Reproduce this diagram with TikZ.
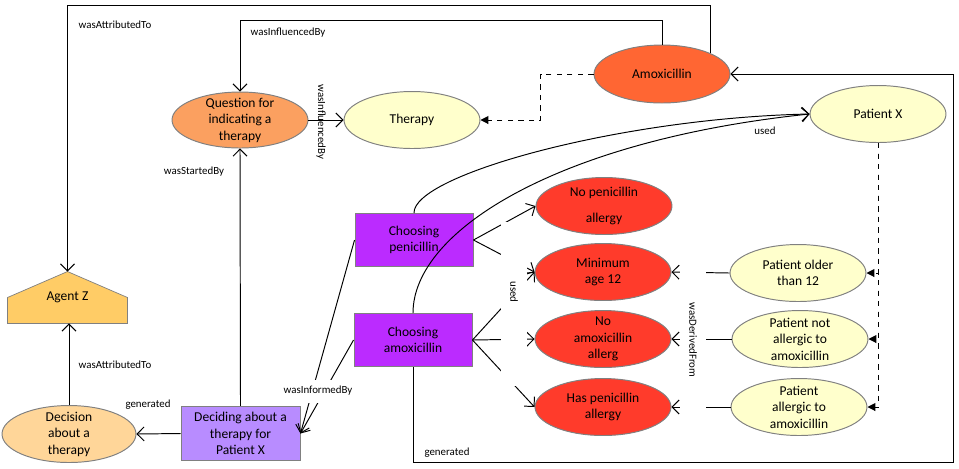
\documentclass[tikz,border=0pt]{standalone}
\usepackage{fontspec}
\setmainfont{Carlito}
\usetikzlibrary{shapes.geometric,arrows.meta,backgrounds}
\definecolor{qorange}{HTML}{FBA060}
\definecolor{thyellow}{HTML}{FFFFCC}
\definecolor{amoxred}{HTML}{FF6633}
\definecolor{allred}{HTML}{FF3B2B}
\definecolor{chpurple}{HTML}{BB2BFF}
\definecolor{depurple}{HTML}{B88CFF}
\definecolor{agentgold}{HTML}{FFCC66}
\definecolor{decorange}{HTML}{FFD699}
\newcommand{\mainsz}{\fontsize{7.7}{9.4}\selectfont}
\newcommand{\lblsz}{\fontsize{6.2}{7.5}\selectfont}
\begin{document}
\begin{tikzpicture}[x=0.02cm,y=-0.02cm,line width=0.55pt,
  ent/.style={ellipse,draw=gray,inner xsep=0pt,inner ysep=-3pt,minimum width=2.72cm,
    minimum height=1.14cm,align=center,font=\mainsz},
  act/.style={rectangle,draw=gray,minimum width=2.36cm,minimum height=1.06cm,
    align=center,font=\mainsz},
  lbl/.style={font=\lblsz,inner sep=1pt},
  arr/.style={-{Straight Barb[length=4pt,width=8pt]}},
  dsh/.style={dashed,-{Triangle[length=4.5pt,width=4.5pt]}}]
  \useasboundingbox (0,0) rectangle (959,468);
  % entities
  \node[ent,fill=qorange,minimum height=1.12cm] (question) at (240,120) {Question for\\indicating a\\therapy};
  \node[ent,fill=thyellow] (therapy) at (412,120) {Therapy};
  \node[ent,fill=amoxred,minimum height=1.16cm] (amox) at (662,74) {Amoxicillin};
  \node[ent,fill=thyellow] (patient) at (878,114) {Patient X};
  \node[ent,fill=allred] (nopen) at (604,206) {No penicillin\\[5pt]allergy};
  \node[ent,fill=allred] (minage) at (603,272) {Minimum\\age 12};
  \node[ent,fill=allred] (noamox) at (603,339) {No\\amoxicillin\\allerg};
  \node[ent,fill=allred] (haspen) at (603,407) {Has penicillin\\allergy};
  \node[ent,fill=thyellow] (older) at (798,273) {Patient older\\than 12};
  \node[ent,fill=thyellow] (notallerg) at (800,339) {Patient not\\allergic to\\amoxicillin};
  \node[ent,fill=thyellow] (allerg) at (799,407) {Patient\\allergic to\\amoxicillin};
  \node[ent,fill=decorange,minimum width=2.68cm] (decision) at (69,434) {Decision\\about a\\therapy};
  % activities
  \node[act,fill=chpurple] (choosepen) at (414,240) {Choosing\\penicillin};
  \node[act,fill=chpurple] (chooseamox) at (413,340) {Choosing\\amoxicillin};
  \node[act,fill=depurple,minimum width=2.38cm] (deciding) at (240.5,433.5) {Deciding about a\\therapy for\\Patient X};
  % agent
  \node[minimum width=2.38cm,minimum height=1.02cm,font=\mainsz] (agent) at (67.5,297.5) {Agent Z};
  \begin{scope}[on background layer]
    \draw[draw=gray,fill=agentgold] (agent.south west) -- (agent.south east) -- (agent.east)
      -- (agent.north) -- (agent.west) -- cycle;
  \end{scope}
  \coordinate (attrtop) at (67.5,5);
  \coordinate (infltop) at (240,20);
  \coordinate (gencorner) at (953,462);
  % relations
  \draw[arr] (amox.north east) |- (attrtop) -- (agent.north);
  \draw[arr] (amox.north) |- (infltop) -- (question.north);
  \draw[arr] (question.east) -- (therapy.west);
  \draw[dsh] (amox.west) -- ++(-53,0) |- (therapy.east);
  \draw[arr] (chooseamox.south) |- (gencorner) |- (amox.east);
  \draw[arr] (choosepen.north) .. controls (413,175) and (620,118) .. (patient.west);
  \draw[arr] (chooseamox.north) .. controls (413,230) and (560,140) .. (patient.west);
  \draw[arr] (choosepen.east) -- (nopen.west);
  \draw[arr] (choosepen.east) -- (minage.west);
  \draw[arr] (chooseamox.east) -- (minage.west);
  \draw[arr] (chooseamox.east) -- (noamox.west);
  \draw[arr] (chooseamox.east) -- (haspen.west);
  \draw[arr] (older.west) -- (minage.east);
  \draw[arr] (notallerg.west) -- (noamox.east);
  \draw[arr] (allerg.west) -- (haspen.east);
  \draw[dsh] (patient.south) |- (older.east);
  \draw[dsh] (patient.south) |- (notallerg.east);
  \draw[dsh] (patient.south) |- (allerg.east);
  \draw[arr] (deciding.north) -- (question.south);
  \draw[arr] (deciding.west) -- (decision.east);
  \draw[arr] (decision.north) -- (decision.north |- agent.south);
  \draw[arr] (choosepen.west) -- (deciding.east);
  \draw[arr] (chooseamox.west) -- (deciding.east);
  % labels
  \node[lbl] (lattrtop) at (115,25) {wasAttributedTo};
  \node[lbl] (lintop) at (288,33) {wasInfluencedBy};
  \node[lbl,rotate=-90] (linfq) at (321,122) {wasInfluencedBy};
  \node[lbl] (lstarted) at (194,172) {wasStartedBy};
  \node[lbl] (lattrlow) at (115,365) {wasAttributedTo};
  \node[lbl] (lgendec) at (148,405) {generated};
  \node[lbl,fill=white,minimum height=0.46cm] (linformed) at (318,391) {wasInformedBy};
  \node[lbl,fill=white,rotate=-90,text width=3.2cm,align=left,minimum height=0.52cm] (lused) at (514,304) {\hspace*{1.15cm}used};
  \node[lbl,fill=white,rotate=-90,minimum width=2.9cm,minimum height=0.52cm] (lderived) at (693,340) {wasDerivedFrom};
  \node[lbl] (lusedpx) at (765,131) {used};
  \node[lbl] (lgenamox) at (447,453) {generated};
\end{tikzpicture}
\end{document}
